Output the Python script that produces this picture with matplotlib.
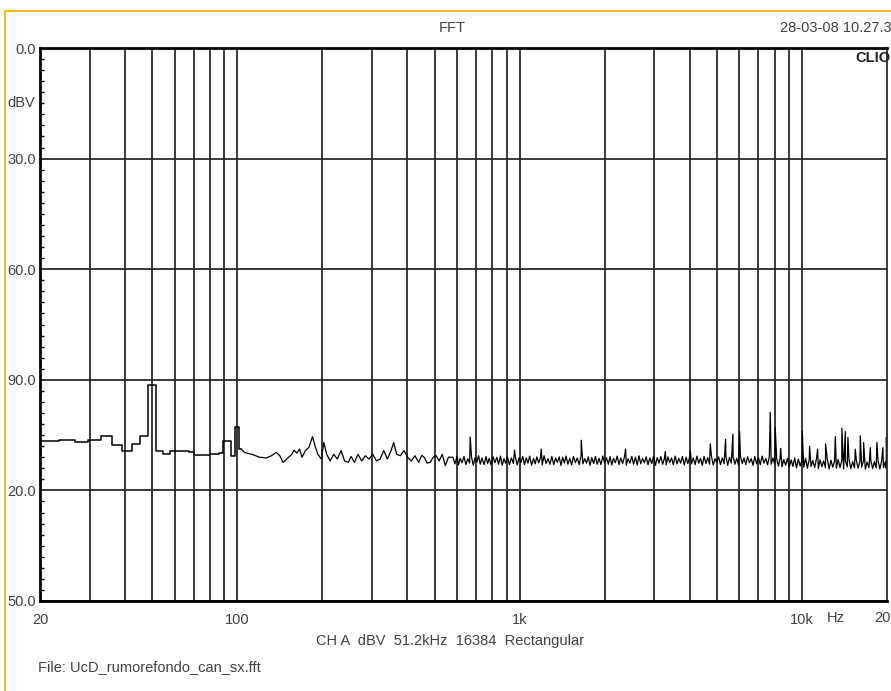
import matplotlib.pyplot as plt
import numpy as np
from matplotlib.lines import Line2D
from matplotlib.ticker import FixedLocator, MultipleLocator

# FFT noise floor, channel A, dBV vs Hz

# low end: single FFT bins (3.125 Hz spacing), drawn as steps
low_freq = [18.75, 21.875, 25.0, 28.125, 31.25, 34.375, 37.5, 40.625, 43.75, 46.875,
            50.0, 53.125, 56.25, 59.375, 62.5, 65.625, 68.75, 71.875, 75.0, 78.125,
            81.25, 84.375, 87.5, 90.625, 93.75, 96.875, 100.0, 103.125]
low_dbv = [-106.6, -106.7, -106.2, -107.0, -106.3, -105.3, -107.8, -109.2, -107.4, -105.3,
           -91.4, -109.2, -110.0, -109.2, -109.4, -109.4, -109.7, -110.4, -110.4, -110.4,
           -110.0, -110.2, -109.8, -106.5, -106.5, -110.6, -102.7, -108.8]

# 100 Hz .. 580 Hz
mid_freq = [106, 113.5, 119.8, 126.7, 132, 137.3, 141.4, 145.2, 149.5, 155.9,
            158.9, 162.5, 166.1, 169.4, 174.3, 179.3, 184.6, 188.4, 192.8, 198.4,
            202.5, 207.2, 213.3, 219.5, 226, 232.9, 239.8, 247, 253, 259.8,
            267.5, 275.7, 284.1, 292.7, 301.6, 310.8, 320.2, 330, 340, 350.3,
            357.9, 366.6, 377.8, 389.3, 401, 413.2, 425.7, 438.7, 450, 458.7,
            470, 481.8, 494, 506.2, 518.5, 531.8, 545.4, 559.3]
mid_dbv = [-109.7, -110.3, -111.0, -111.2, -110.6, -109.7, -110.6, -112.4, -111.5, -110.2,
           -109.1, -109.9, -108.8, -111.0, -109.2, -108.3, -105.4, -107.9, -110.2, -111.5,
           -107.0, -110.2, -112.0, -110.2, -111.5, -109.2, -112.0, -112.4, -110.8, -112.4,
           -110.2, -112.0, -110.6, -111.5, -110.2, -112.0, -111.5, -109.2, -111.5, -109.2,
           -107.0, -110.2, -110.6, -109.2, -111.0, -112.0, -110.6, -112.4, -110.5, -111.0,
           -112.6, -112.4, -111.0, -110.6, -112.0, -110.2, -113.3, -111.0]

# dense noise floor 580 Hz .. 20 kHz
noise_freq = [
    580, 590, 600, 607, 615, 625, 635, 645, 655, 665, 675, 685, 695, 705, 715, 725, 735,
    748, 760, 770, 780, 792, 805, 817, 830, 842, 855, 867, 880, 892, 905, 920, 935, 950,
    965, 980, 995, 1010,
    1025, 1040, 1055, 1070, 1085, 1102, 1120, 1135, 1150, 1168, 1185, 1202, 1220, 1240,
    1260, 1280, 1300, 1320, 1340, 1360, 1380, 1400, 1420, 1440, 1460, 1482, 1505, 1528,
    1550, 1575, 1600, 1625, 1650, 1675, 1700, 1725, 1750, 1775, 1800, 1828, 1855, 1882,
    1910, 1940, 1970, 2000,
    2030, 2060, 2090, 2120, 2150, 2182, 2215, 2248, 2280, 2315, 2350, 2385, 2420, 2458,
    2495, 2532, 2570, 2608, 2645, 2685, 2725, 2765, 2805, 2848, 2890, 2935, 2980, 3025,
    3070, 3115, 3160, 3208, 3255, 3302, 3350, 3400, 3450, 3502, 3555, 3608, 3660, 3715,
    3770, 3828, 3885, 3942,
    4000, 4060, 4120, 4182, 4245, 4308, 4370, 4435, 4500, 4568, 4635, 4705, 4775, 4848,
    4920, 4992, 5065, 5142, 5220, 5298, 5375, 5455, 5535, 5618, 5700, 5785, 5870, 5960,
    6050, 6140, 6230, 6322, 6415, 6512, 6610, 6708, 6805, 6908, 7010, 7115, 7220, 7330,
    7440, 7550, 7660, 7775, 7890, 8010,
    8130, 8250, 8370, 8495, 8620, 8750, 8880, 9015, 9150, 9285, 9420, 9562, 9705, 9850,
    9995, 10145, 10295, 10450, 10605, 10762, 10920, 11085, 11250, 11418, 11585, 11760,
    11935, 12112, 12290, 12475, 12660, 12850, 13040, 13235, 13430, 13630, 13830, 14040,
    14250, 14462, 14675, 14895, 15115, 15342, 15570, 15802, 16035, 16275, 16515, 16762,
    17010, 17265, 17520, 17785, 18050, 18320, 18590, 18868, 19145, 19432, 19720, 19860,
    20000]
noise_dbv = [
    -111.0, -112.8, -110.7, -113.1, -111.3, -112.5, -110.8, -113.0, -111.4, -112.6,
    -110.9, -113.2, -111.1, -112.4, -110.6, -112.9, -111.2, -113.0, -110.8, -112.7,
    -111.3, -113.1, -110.9, -112.5, -111.0, -112.9, -110.7, -113.2, -111.4, -112.6,
    -110.9, -113.0, -111.2, -112.7, -110.8, -113.1, -111.1, -112.5,
    -110.8, -113.0, -111.2, -112.6, -110.7, -113.2, -111.3, -112.8, -110.9, -112.5,
    -111.1, -113.1, -110.6, -112.7, -111.4, -112.9, -110.8, -113.0, -111.2, -112.4,
    -110.9, -113.2, -111.0, -112.6, -110.7, -112.9, -111.3, -113.1, -110.8, -112.5,
    -111.2, -113.0, -110.6, -112.8, -111.4, -112.6, -110.9, -113.2, -111.1, -112.7,
    -110.8, -112.9, -111.3, -113.0, -110.7, -112.6,
    -111.1, -112.9, -110.8, -113.1, -111.3, -112.5, -110.7, -113.0, -111.2, -112.7,
    -110.9, -113.2, -111.4, -112.6, -110.8, -112.9, -111.0, -113.1, -110.6, -112.8,
    -111.3, -112.5, -110.9, -113.0, -111.2, -112.7, -110.7, -113.2, -111.1, -112.6,
    -110.8, -112.9, -111.4, -113.1, -110.9, -112.5, -111.2, -113.0, -110.7, -112.8,
    -111.3, -112.6, -110.8, -113.1, -111.0, -112.7,
    -110.9, -112.8, -111.2, -113.0, -110.7, -112.6, -111.3, -113.2, -110.8, -112.7,
    -111.1, -112.9, -110.6, -113.1, -111.4, -112.5, -110.9, -113.0, -111.2, -112.8,
    -110.7, -113.2, -111.0, -112.6, -110.8, -112.9, -111.3, -113.1, -110.6, -112.7,
    -111.2, -113.0, -110.9, -112.5, -111.4, -113.2, -110.8, -112.8, -111.1, -113.0,
    -110.7, -112.6, -111.3, -113.1, -110.9, -112.9, -111.2, -113.0,
    -111.4, -113.4, -111.1, -113.6, -111.6, -113.2, -111.3, -113.8, -111.7, -113.5,
    -111.2, -113.9, -111.5, -113.4, -111.8, -113.7, -111.3, -114.0, -111.6, -113.5,
    -111.9, -113.8, -111.4, -114.1, -111.7, -113.6, -112.0, -113.9, -111.5, -114.2,
    -111.8, -113.7, -112.1, -114.0, -111.6, -113.8, -111.9, -114.2, -112.0, -113.6,
    -111.7, -114.1, -112.2, -113.9, -111.8, -114.0, -112.1, -113.7, -111.9, -114.2,
    -112.3, -113.8, -111.8, -114.1, -112.2, -113.9, -112.0, -114.2, -111.9, -113.8,
    -112.3, -114.0, -112.6]

# spurious lines sticking out of the floor
spike_freq = [668, 959, 1192, 1652, 2372, 3279, 4022, 4732, 5363, 5692, 6010, 7720, 8040,
              8396, 10023, 10638, 11356, 12120, 13120, 13844, 14234, 14540, 15444, 16086,
              16526, 17454, 18420, 19342, 19900]
spike_dbv = [-105.5, -109.1, -108.8, -106.4, -108.8, -109.5, -109.3, -107.4, -106.1, -104.7,
             -104.1, -98.8, -103.0, -108.6, -104.0, -108.0, -108.8, -107.4, -105.4, -103.1,
             -104.0, -105.6, -108.8, -105.2, -107.0, -108.4, -107.0, -108.4, -105.6]

y_ticks = [0, -30, -60, -90, -120, -150]
y_labels = ['0.0', '30.0', '60.0', '90.0', '20.0', '50.0']
x_major = [20, 100, 1000, 10000]
x_labels = ['20', '100', '1k', '10k']
x_grid = [30, 40, 50, 60, 70, 80, 90, 200, 300, 400, 500, 600, 700, 800, 900,
          2000, 3000, 4000, 5000, 6000, 7000, 8000, 9000]

W, H = 891, 691
txt = '#404040'
plt.rcParams['font.family'] = ['Liberation Sans', 'DejaVu Sans']

fig = plt.figure(figsize=(W / 100, H / 100), dpi=100)
ax = fig.add_axes([40 / W, 1 - 601 / H, (887 - 40) / W, (601 - 48) / H])

# trace
ax.plot(low_freq, low_dbv, drawstyle='steps-mid', color='black', lw=1.1)
hf = np.array([low_freq[-1]] + mid_freq + noise_freq + spike_freq)
hd = np.array([low_dbv[-1]] + mid_dbv + noise_dbv + spike_dbv)
order = np.argsort(hf, kind='stable')
ax.plot(hf[order], hd[order], color='black', lw=0.9)

ax.set_xscale('log')
ax.set_xlim(20, 20000)
ax.set_ylim(-150, 0)

ax.xaxis.set_major_locator(FixedLocator(x_major))
ax.xaxis.set_minor_locator(FixedLocator(x_grid))
ax.set_xticklabels(x_labels)
ax.xaxis.set_minor_formatter(plt.NullFormatter())
ax.set_yticks(y_ticks)
ax.set_yticklabels(y_labels)
ax.yaxis.set_minor_locator(MultipleLocator(3))

ax.grid(True, which='both', axis='x', color='#2a2a2a', lw=1.3)
ax.grid(True, which='major', axis='y', color='#2a2a2a', lw=1.3)
ax.tick_params(axis='x', which='both', length=0, pad=9, labelsize=10.5, labelcolor=txt)
ax.tick_params(axis='y', which='major', length=0, pad=3, labelsize=10.5, labelcolor=txt)
ax.tick_params(axis='y', which='minor', direction='in', length=3, width=1, color='black')

for s in ['top', 'left', 'bottom']:
    ax.spines[s].set_linewidth(2)
ax.spines['right'].set_linewidth(1.3)
ax.spines['right'].set_color('#2a2a2a')

def px(x, y):
    return x / W, 1 - y / H

fig.text(*px(452, 28), 'FFT', ha='center', va='center', fontsize=10.5, color=txt)
fig.text(*px(780, 28), '28-03-08 10.27.3', ha='left', va='center', fontsize=10.5, color=txt)
fig.text(*px(855, 58), 'CLIO', ha='left', va='center', fontsize=10.5, color='#222222',
         fontweight='bold')
fig.text(*px(7, 103), 'dBV', ha='left', va='center', fontsize=10.5, color=txt)
fig.text(*px(836, 618), 'Hz', ha='center', va='center', fontsize=10.5, color=txt)
fig.text(*px(874, 618), '20', ha='left', va='center', fontsize=10.5, color=txt)
fig.text(*px(450, 641), 'CH A  dBV  51.2kHz  16384  Rectangular', ha='center', va='center',
         fontsize=10.5, color=txt)
fig.text(*px(38, 667), 'File: UcD_rumorefondo_can_sx.fft', ha='left', va='center',
         fontsize=10.5, color=txt)

# orange frame edge
orange = '#F5B622'
fig.add_artist(Line2D([5 / W, 5 / W], [0, 1 - 11 / H], color=orange, lw=1.5,
                      transform=fig.transFigure))
fig.add_artist(Line2D([5 / W, 1], [1 - 11 / H, 1 - 11 / H], color=orange, lw=1.5,
                      transform=fig.transFigure))

fig.savefig('out.png', dpi=100)
